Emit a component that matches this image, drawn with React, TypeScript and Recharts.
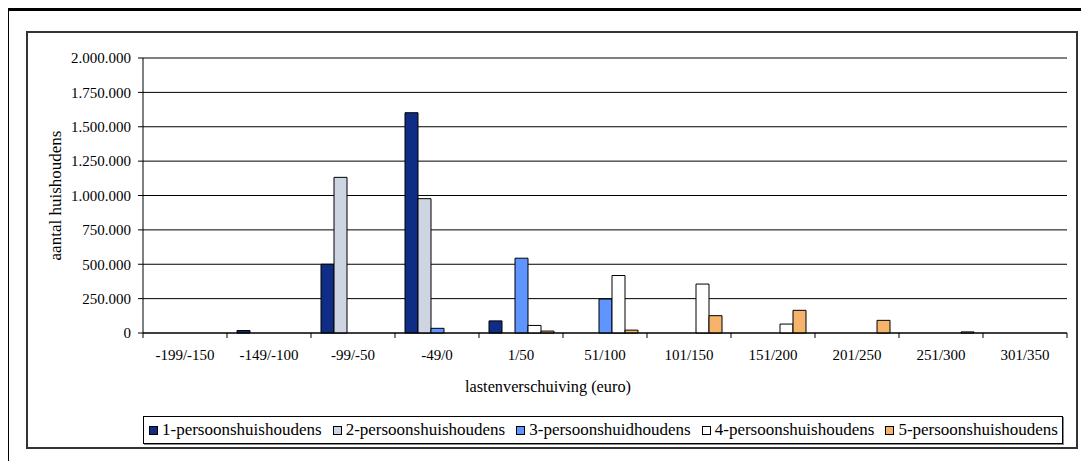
import { BarChart, Bar, XAxis, YAxis, CartesianGrid, Legend } from 'recharts'

const categories = ['-199/-150', '-149/-100', '-99/-50', '-49/0', '1/50', '51/100', '101/150', '151/200', '201/250', '251/300', '301/350']

const een = [0, 18000, 500000, 1602000, 88000, 0, 0, 0, 0, 0, 0]
const twee = [0, 0, 1132000, 977000, 0, 0, 0, 0, 0, 0, 0]
const drie = [0, 0, 0, 34000, 544000, 247000, 0, 0, 0, 0, 0]
const vier = [0, 0, 0, 0, 55000, 418000, 356000, 65000, 0, 0, 0]
const vijf = [0, 0, 0, 0, 14000, 21000, 126000, 165000, 92000, 8000, 0]

const yTicks = [0, 250000, 500000, 750000, 1000000, 1250000, 1500000, 1750000, 2000000]

const series = [
    { key: 'een', name: '1-persoonshuishoudens', color: '#0f2d84' },
    { key: 'twee', name: '2-persoonshuishoudens', color: '#ccd5e1' },
    { key: 'drie', name: '3-persoonshuidhoudens', color: '#5e95ff' },
    { key: 'vier', name: '4-persoonshuishoudens', color: '#ffffff' },
    { key: 'vijf', name: '5-persoonshuishoudens', color: '#f5b36b' },
]

const data = categories.map((cat, i) => ({
    cat,
    een: een[i],
    twee: twee[i],
    drie: drie[i],
    vier: vier[i],
    vijf: vijf[i],
}))

const FONT = 'Liberation Serif, Tinos, Times New Roman, serif'
const CHART_W = 1052
const CHART_H = 418
const PLOT_LEFT = 117
const PLOT_RIGHT = 11
const PLOT_W = CHART_W - PLOT_LEFT - PLOT_RIGHT
const HALF_BAND = PLOT_W / categories.length / 2

// dotted thousands like the Dutch original
const fmt = (v: number) => String(v).replace(/\B(?=(\d{3})+(?!\d))/g, '.')

// label in the middle of the category, tick marks on the category edges
const CategoryTick = (props: any) => {
    const { x, y, payload, index } = props
    return (
        <g>
            <line x1={x - HALF_BAND} x2={x - HALF_BAND} y1={y} y2={y + 5} stroke="#000" />
            {index === categories.length - 1 && (
                <line x1={x + HALF_BAND} x2={x + HALF_BAND} y1={y} y2={y + 5} stroke="#000" />
            )}
            <text x={x} y={y + 27} textAnchor="middle" fontSize={15} style={{ fontFamily: FONT }} fill="#000">
                {payload.value}
            </text>
        </g>
    )
}

const LegendBox = () => (
    <div
        style={{
            boxSizing: 'border-box',
            width: 920,
            height: 28,
            border: '1px solid #000',
            boxShadow: '1px 1px 0 #888',
            background: '#fff',
            display: 'flex',
            alignItems: 'center',
            justifyContent: 'space-between',
            padding: '0 4px 0 5px',
            fontFamily: FONT,
            fontSize: 17,
            color: '#000',
        }}
    >
        {series.map((s) => (
            <div key={s.key} style={{ display: 'flex', alignItems: 'center', gap: 4 }}>
                <div style={{ width: 7, height: 7, background: s.color, border: '1px solid #000' }} />
                <span>{s.name}</span>
            </div>
        ))}
    </div>
)

export default function App() {
    return (
        <div style={{ position: 'relative', margin: -8, width: 1089, height: 469, overflow: 'hidden', background: '#fff', fontFamily: FONT }}>
            <div
                style={{
                    position: 'absolute',
                    left: 6,
                    top: 8,
                    width: 1200,
                    height: 600,
                    borderTop: '3px solid #000',
                    borderLeft: '3px solid #000',
                }}
            />
            <div
                style={{
                    position: 'absolute',
                    left: 26,
                    top: 31,
                    width: CHART_W,
                    height: CHART_H,
                    boxSizing: 'border-box',
                    border: '2px solid #333',
                }}
            />
            <div style={{ position: 'absolute', left: 26, top: 31 }}>
                <BarChart
                    width={CHART_W}
                    height={CHART_H}
                    data={data}
                    margin={{ top: 27, right: PLOT_RIGHT, bottom: 56, left: 0 }}
                    barGap={0}
                    barSize={13}
                    style={{ fontFamily: FONT }}
                >
                    <CartesianGrid vertical={false} stroke="#000" yAxisId="left" />
                    <XAxis
                        dataKey="cat"
                        tick={<CategoryTick />}
                        tickLine={false}
                        tickSize={0}
                        tickMargin={0}
                        interval={0}
                        height={60}
                        axisLine={{ stroke: '#000' }}
                        label={{
                            content: ({ viewBox }: any) => (
                                <text
                                    x={viewBox.x + viewBox.width / 2 - 57}
                                    y={viewBox.y + 59}
                                    textAnchor="middle"
                                    fontSize={16.3}
                                    style={{ fontFamily: FONT }}
                                    fill="#000"
                                >
                                    lastenverschuiving (euro)
                                </text>
                            ),
                        }}
                    />
                    <YAxis
                        yAxisId="left"
                        width={PLOT_LEFT}
                        domain={[0, 2000000]}
                        ticks={yTicks}
                        tickFormatter={fmt}
                        tickSize={5}
                        tickMargin={7}
                        tick={{ fontSize: 15, fill: '#000', style: { fontFamily: FONT } }}
                        tickLine={{ stroke: '#000' }}
                        axisLine={{ stroke: '#000' }}
                        interval={0}
                        label={{
                            content: ({ viewBox }: any) => {
                                const cx = 29
                                const cy = viewBox.y + viewBox.height / 2
                                return (
                                    <text
                                        x={cx}
                                        y={cy}
                                        transform={`rotate(-90, ${cx}, ${cy})`}
                                        textAnchor="middle"
                                        dominantBaseline="central"
                                        fontSize={17}
                                        style={{ fontFamily: FONT }}
                                        fill="#000"
                                    >
                                        aantal huishoudens
                                    </text>
                                )
                            },
                        }}
                    />
                    <YAxis
                        yAxisId="right"
                        orientation="right"
                        width={0}
                        domain={[0, 2000000]}
                        tick={false}
                        tickLine={false}
                        axisLine={{ stroke: '#888' }}
                    />
                    {series.map((s) => (
                        <Bar
                            key={s.key}
                            yAxisId="left"
                            dataKey={s.key}
                            name={s.name}
                            fill={s.color}
                            stroke="#000"
                            strokeWidth={1}
                            isAnimationActive={false}
                        />
                    ))}
                    <Legend
                        layout="horizontal"
                        verticalAlign="middle"
                        align="center"
                        content={<LegendBox />}
                        wrapperStyle={{ left: 117, top: 385, width: 920, height: 28 }}
                    />
                </BarChart>
            </div>
        </div>
    )
}
